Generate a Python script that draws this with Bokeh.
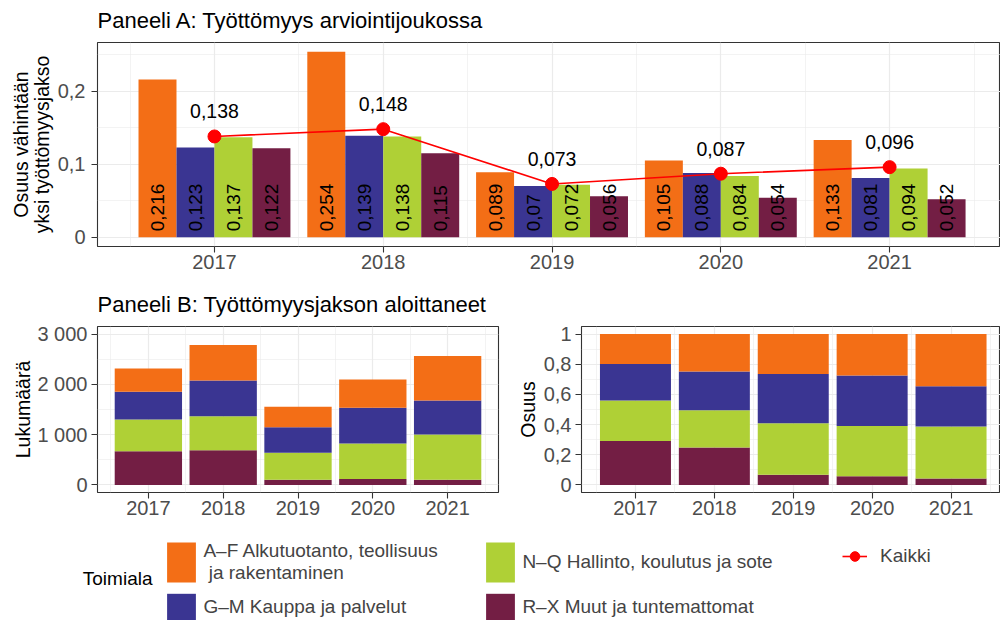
from bokeh.plotting import figure
from bokeh.models import (ColumnDataSource, Range1d, FixedTicker, CustomJSTickFormatter,
                          Legend, LegendItem)
from bokeh.layouts import column, row
from bokeh.transform import dodge
from bokeh.core.properties import value
from bokeh.embed import file_html
from bokeh.resources import INLINE
import math

# ---------------- data ----------------
years = [2017, 2018, 2019, 2020, 2021]
categories = ["A–F Alkutuotanto, teollisuus\n ja rakentaminen",
              "G–M Kauppa ja palvelut",
              "N–Q Hallinto, koulutus ja sote",
              "R–X Muut ja tuntemattomat"]
colors = ["#F36E16", "#3A3592", "#AFD036", "#731E44"]
total_label = "Kaikki"
legend_title = "Toimiala"

# Panel A: share with at least one unemployment spell
share_af = [0.216, 0.254, 0.089, 0.105, 0.133]
share_gm = [0.123, 0.139, 0.070, 0.088, 0.081]
share_nq = [0.137, 0.138, 0.072, 0.084, 0.094]
share_rx = [0.122, 0.115, 0.056, 0.054, 0.052]
share_all = [0.138, 0.148, 0.073, 0.087, 0.096]

# Panel B left: counts of those starting a spell
count_af = [462, 706, 409, 560, 883]
count_gm = [553, 711, 508, 712, 679]
count_nq = [627, 673, 534, 705, 897]
count_rx = [672, 692, 105, 119, 105]

# Panel B right: proportions
prop_af = [0.198, 0.248, 0.264, 0.275, 0.346]
prop_gm = [0.242, 0.257, 0.327, 0.334, 0.267]
prop_nq = [0.268, 0.247, 0.341, 0.334, 0.344]
prop_rx = [0.292, 0.248, 0.068, 0.057, 0.043]

title_a = "Paneeli A: Työttömyys arviointijoukossa"
title_b = "Paneeli B: Työttömyysjakson aloittaneet"
ylab_a = "Osuus vähintään\nyksi työttömyysjakso"
ylab_b1 = "Lukumäärä"
ylab_b2 = "Osuus"

yticks_a = [0, 0.1, 0.2]
yticks_b1 = [0, 1000, 2000, 3000]
yticks_b2 = [0, 0.2, 0.4, 0.6, 0.8, 1.0]

# ---------------- style ----------------
FONT = "Liberation Sans"
fmt = CustomJSTickFormatter(code="""
var s = (Math.round(tick*1000)/1000).toString().replace('.', ',');
return s.replace(/\\B(?=(\\d{3})+(?!\\d))/g, ' ');
""")


def lab(v):
    return f"{v:g}".replace(".", ",")


def minor_between(t):
    return [(t[i] + t[i + 1]) / 2 for i in range(len(t) - 1)] + [t[-1] + (t[1] - t[0]) / 2]


def style(p, yticks, ylab):
    p.outline_line_color = "#333333"
    p.outline_line_width = 1.1
    p.background_fill_color = "white"
    p.border_fill_color = "white"
    p.xaxis.ticker = FixedTicker(ticks=years, minor_ticks=[y - 0.5 for y in years] + [years[-1] + 0.5])
    p.yaxis.ticker = FixedTicker(ticks=yticks, minor_ticks=minor_between(yticks))
    p.yaxis.formatter = fmt
    p.yaxis.axis_label = ylab
    for ax in p.axis:
        ax.axis_line_color = None
        ax.major_tick_line_color = "#333333"
        ax.major_tick_line_width = 1.1
        ax.major_tick_in = 0
        ax.major_tick_out = 6
        ax.minor_tick_line_color = None
        ax.major_label_text_font = FONT
        ax.major_label_text_font_size = "20px"
        ax.major_label_text_color = "#4D4D4D"
        ax.major_label_standoff = 4
        ax.axis_label_text_font = FONT
        ax.axis_label_text_font_size = "19.5px"
        ax.axis_label_text_font_style = "normal"
        ax.axis_label_text_color = "black"
        ax.axis_label_text_line_height = 0.95
    p.xaxis.major_label_standoff = 2
    p.grid.grid_line_color = "#EBEBEB"
    p.grid.grid_line_width = 1.2
    p.grid.minor_grid_line_color = "#EBEBEB"
    p.grid.minor_grid_line_width = 0.6
    p.title.text_font = FONT
    p.title.text_font_size = "22px"
    p.title.text_font_style = "normal"
    p.title.text_color = "black"
    p.title.offset = 0
    p.title.standoff = 15
    p.title.vertical_align = "top"


# ---------------- Panel A ----------------
src_a = ColumnDataSource(dict(
    year=years, af=share_af, gm=share_gm, nq=share_nq, rx=share_rx, all=share_all,
    af_l=[lab(v) for v in share_af], gm_l=[lab(v) for v in share_gm],
    nq_l=[lab(v) for v in share_nq], rx_l=[lab(v) for v in share_rx],
    all_l=[lab(v) for v in share_all], zero=[0] * len(years)))

ymax_a = max(share_af + share_gm + share_nq + share_rx + share_all)
pa = figure(width=1000, height=284, output_backend="svg", toolbar_location=None,
            x_range=Range1d(2016.307, 2021.657),
            y_range=Range1d(-0.05 * ymax_a, 1.05 * ymax_a),
            min_border_left=97, min_border_right=0, min_border_top=41, min_border_bottom=38,
            title=title_a)
style(pa, yticks_a, ylab_a)
pa.yaxis.major_label_standoff = 6
pa.yaxis.axis_label_standoff = 2

bw = 0.225
offs = [-1.5 * bw, -0.5 * bw, 0.5 * bw, 1.5 * bw]
cols = ["af", "gm", "nq", "rx"]
for c, col, off in zip(cols, colors, offs):
    pa.vbar(x=dodge("year", off, range=pa.x_range), top=c, width=bw, source=src_a,
            fill_color=col, line_color=None)
for c, off in zip(cols, offs):
    pa.text(x=dodge("year", off, range=pa.x_range), y="zero", text=c + "_l", source=src_a,
            angle=math.pi / 2, text_align="left", text_baseline="middle",
            y_offset=-6, text_font=value(FONT), text_font_size="19px", text_color="black")

pa.line(x="year", y="all", source=src_a, line_color="#FF0000", line_width=1.6)
pa.scatter(x="year", y="all", source=src_a, size=13, fill_color="#FF0000", line_color="#FF0000")
pa.text(x="year", y="all", text="all_l", source=src_a, text_align="center",
        text_baseline="alphabetic", y_offset=-25, text_font=value(FONT),
        text_font_size="19.5px", text_color="black")

# ---------------- Panel B left ----------------
src_b = ColumnDataSource(dict(year=years, af=count_af, gm=count_gm, nq=count_nq, rx=count_rx))
pb1 = figure(width=513, height=240, output_backend="svg", toolbar_location=None,
             x_range=Range1d(2016.32, 2021.68), y_range=Range1d(-150, 3150),
             min_border_left=97, min_border_right=15, min_border_top=41, min_border_bottom=32,
             title=title_b)
style(pb1, yticks_b1, ylab_b1)
pb1.yaxis.axis_label_standoff = 0
pb1.vbar_stack(["rx", "nq", "gm", "af"], x="year", width=0.9, source=src_b,
               fill_color=colors[::-1], line_color=None)

# ---------------- Panel B right ----------------
src_c = ColumnDataSource(dict(year=years, af=prop_af, gm=prop_gm, nq=prop_nq, rx=prop_rx))
pb2 = figure(width=487, height=240, output_backend="svg", toolbar_location=None,
             x_range=Range1d(2016.316, 2021.627), y_range=Range1d(-0.05, 1.05),
             min_border_left=68, min_border_right=0, min_border_top=41, min_border_bottom=32)
style(pb2, yticks_b2, ylab_b2)
pb2.yaxis.axis_label_standoff = 2
pb2.vbar_stack(["rx", "nq", "gm", "af"], x="year", width=0.9, source=src_c,
               fill_color=colors[::-1], line_color=None)

# ---------------- Legend strip ----------------
LH = 96
FL = 97  # frame left of the legend strip (aligned with the panels above)
pl = figure(width=1000, height=LH, output_backend="svg", toolbar_location=None,
            x_range=Range1d(0, 1), y_range=Range1d(0, 1),
            x_axis_location=None, y_axis_location="left",
            min_border_left=FL, min_border_right=0, min_border_top=12, min_border_bottom=0)
pl.grid.visible = False
pl.outline_line_color = None
# the legend title is carried by the (tickless) left axis of the strip
ya = pl.yaxis[0]
ya.ticker = FixedTicker(ticks=[])
ya.axis_line_color = None
ya.major_tick_line_color = None
ya.minor_tick_line_color = None
ya.axis_label = legend_title
ya.axis_label_orientation = "horizontal"
ya.axis_label_standoff = -55
ya.axis_label_text_font = FONT
ya.axis_label_text_font_size = "19px"
ya.axis_label_text_font_style = "normal"
ya.axis_label_text_color = "black"

# key renderers: real data, lying outside this strip's (0..1) view
sw = [pl.vbar(x=years, top=v, width=0.9, fill_color=c, line_color=None)
      for v, c in zip([count_af, count_gm, count_nq, count_rx], colors)]
kl = pl.line(x=years, y=share_all, line_color="#FF0000", line_width=1.6)
ks = pl.scatter(x=years, y=share_all, size=13, fill_color="#FF0000", line_color="#FF0000")


def mk_legend(item, loc, gw=36, gh=50, standoff=4):
    lg = Legend(items=[item], location=loc, orientation="vertical",
                glyph_width=gw, glyph_height=gh, spacing=0, padding=0, margin=0,
                label_standoff=standoff, label_text_font=FONT, label_text_font_size="19px",
                label_text_line_height=1.05, label_height=gh,
                border_line_color=None, background_fill_alpha=0)
    pl.add_layout(lg)
    return lg


mk_legend(LegendItem(label=categories[0], renderers=[sw[0]]), (163.4 - FL, 33))
mk_legend(LegendItem(label=categories[1], renderers=[sw[1]]), (163.4 - FL, -3), gh=33)
mk_legend(LegendItem(label=categories[2], renderers=[sw[2]]), (482.4 - FL, 33))
mk_legend(LegendItem(label=categories[3], renderers=[sw[3]]), (482.4 - FL, -3), gh=33)
mk_legend(LegendItem(label=total_label, renderers=[kl, ks]), (842 - FL, 52), gw=25, gh=24, standoff=13)

layout = column(pa, row(pb1, pb2), pl)
open("out.html", "w").write(file_html(layout, INLINE))
